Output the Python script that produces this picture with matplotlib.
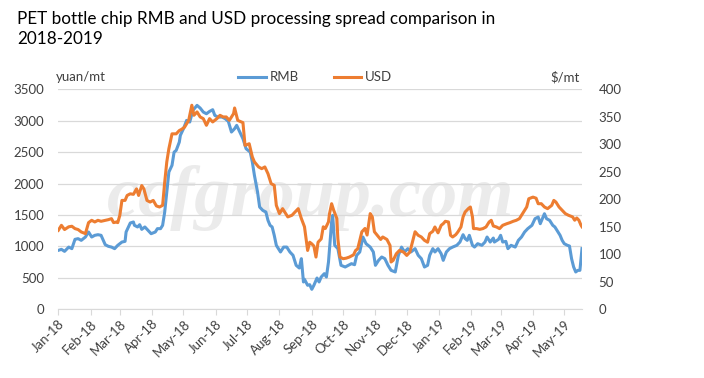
import matplotlib
matplotlib.use("Agg")
import matplotlib.pyplot as plt
import matplotlib.dates as mdates
import pandas as pd

title = "PET bottle chip RMB and USD processing spread comparison in\n2018-2019"

rmb_dates = [
    "2018-01-01", "2018-01-04", "2018-01-07", "2018-01-11", "2018-01-14", "2018-01-17", "2018-01-20",
    "2018-01-23", "2018-01-27", "2018-01-30", "2018-02-02", "2018-02-05", "2018-02-08", "2018-02-11",
    "2018-02-15", "2018-02-18", "2018-02-21", "2018-02-24", "2018-02-27", "2018-03-03", "2018-03-06",
    "2018-03-07", "2018-03-11", "2018-03-14", "2018-03-15", "2018-03-18", "2018-03-20", "2018-03-22",
    "2018-03-25", "2018-03-28", "2018-03-31", "2018-04-04", "2018-04-06", "2018-04-09", "2018-04-11",
    "2018-04-13", "2018-04-15", "2018-04-17", "2018-04-20", "2018-04-22", "2018-04-24", "2018-04-27",
    "2018-04-28", "2018-05-01", "2018-05-04", "2018-05-07", "2018-05-10", "2018-05-14", "2018-05-17",
    "2018-05-20", "2018-05-23", "2018-05-26", "2018-05-29", "2018-05-31", "2018-06-03", "2018-06-07",
    "2018-06-10", "2018-06-13", "2018-06-16", "2018-06-19", "2018-06-21", "2018-06-24", "2018-06-27",
    "2018-06-30", "2018-07-04", "2018-07-06", "2018-07-08", "2018-07-11", "2018-07-13", "2018-07-16",
    "2018-07-19", "2018-07-21", "2018-07-23", "2018-07-25", "2018-07-27", "2018-07-29", "2018-07-31",
    "2018-08-02", "2018-08-05", "2018-08-08", "2018-08-11", "2018-08-14", "2018-08-17", "2018-08-20",
    "2018-08-22", "2018-08-24", "2018-08-25", "2018-08-28", "2018-08-30", "2018-09-01", "2018-09-03",
    "2018-09-06", "2018-09-08", "2018-09-10", "2018-09-13", "2018-09-15", "2018-09-17", "2018-09-20",
    "2018-09-21", "2018-09-23", "2018-09-26", "2018-09-29", "2018-10-03", "2018-10-06", "2018-10-09",
    "2018-10-12", "2018-10-14", "2018-10-17", "2018-10-20", "2018-10-23", "2018-10-27", "2018-10-30",
    "2018-11-01", "2018-11-04", "2018-11-07", "2018-11-10", "2018-11-13", "2018-11-16", "2018-11-20",
    "2018-11-23", "2018-11-26", "2018-11-29", "2018-12-02", "2018-12-05", "2018-12-09", "2018-12-12",
    "2018-12-15", "2018-12-18", "2018-12-21", "2018-12-23", "2018-12-26", "2018-12-28", "2018-12-31",
    "2019-01-03", "2019-01-05", "2019-01-08", "2019-01-11", "2019-01-14", "2019-01-18", "2019-01-21",
    "2019-01-24", "2019-01-26", "2019-01-28", "2019-01-30", "2019-02-02", "2019-02-04", "2019-02-07",
    "2019-02-11", "2019-02-14", "2019-02-16", "2019-02-19", "2019-02-22", "2019-02-23", "2019-02-27",
    "2019-03-01", "2019-03-03", "2019-03-06", "2019-03-08", "2019-03-11", "2019-03-15", "2019-03-18",
    "2019-03-21", "2019-03-24", "2019-03-27", "2019-03-31", "2019-04-03", "2019-04-06", "2019-04-08",
    "2019-04-10", "2019-04-12", "2019-04-14", "2019-04-17", "2019-04-20", "2019-04-22", "2019-04-24",
    "2019-04-27", "2019-04-29", "2019-05-01", "2019-05-04", "2019-05-06", "2019-05-08", "2019-05-10",
    "2019-05-12", "2019-05-14", "2019-05-16", "2019-05-18",
]
rmb_values = [
    938, 954, 922, 990, 965, 1113, 1124,
    1097, 1150, 1230, 1150, 1177, 1187, 1177,
    1028, 1002, 990, 965, 1018, 1070, 1081,
    1230, 1373, 1389, 1336, 1310, 1346, 1272,
    1310, 1256, 1203, 1230, 1283, 1283, 1336,
    1548, 1866, 2184, 2290, 2500, 2528, 2660,
    2767, 2873, 3005, 2979, 3164, 3244, 3201,
    3138, 3111, 3148, 3175, 3085, 3058, 3058,
    3032, 2989, 2820, 2873, 2926, 2820, 2714,
    2555, 2500, 2343, 2131, 1866, 1627, 1574,
    1548, 1415, 1336, 1310, 1177, 1018, 965,
    912, 990, 990, 912, 859, 700, 657,
    806, 435, 477, 382, 392, 318, 382,
    498, 435, 514, 567, 514, 753, 1389,
    1495, 1018, 965, 700, 673, 700, 726,
    710, 859, 912, 1150, 1044, 990, 912,
    700, 779, 832, 806, 700, 620, 594,
    859, 990, 912, 965, 912, 965, 859,
    806, 673, 700, 859, 965, 912, 965,
    885, 779, 912, 965, 990, 1018, 1070,
    1187, 1124, 1097, 1177, 1018, 990, 1044,
    1018, 1070, 1150, 1070, 1134, 1070, 1113,
    1177, 1070, 1081, 965, 1018, 990, 1097,
    1150, 1230, 1283, 1336, 1442, 1468, 1362,
    1442, 1521, 1442, 1415, 1336, 1310, 1256,
    1177, 1097, 1044, 1018, 1007, 806, 673,
    594, 620, 620, 965,
]

usd_dates = [
    "2018-01-01", "2018-01-04", "2018-01-07", "2018-01-11", "2018-01-14", "2018-01-17", "2018-01-20",
    "2018-01-23", "2018-01-27", "2018-01-30", "2018-02-02", "2018-02-05", "2018-02-08", "2018-02-11",
    "2018-02-15", "2018-02-18", "2018-02-21", "2018-02-23", "2018-02-26", "2018-02-27", "2018-03-01",
    "2018-03-03", "2018-03-06", "2018-03-08", "2018-03-11", "2018-03-14", "2018-03-17", "2018-03-19",
    "2018-03-22", "2018-03-24", "2018-03-27", "2018-03-30", "2018-04-02", "2018-04-05", "2018-04-08",
    "2018-04-11", "2018-04-13", "2018-04-15", "2018-04-17", "2018-04-20", "2018-04-24", "2018-04-27",
    "2018-04-29", "2018-05-02", "2018-05-06", "2018-05-09", "2018-05-11", "2018-05-14", "2018-05-17",
    "2018-05-20", "2018-05-23", "2018-05-26", "2018-05-29", "2018-06-02", "2018-06-05", "2018-06-08",
    "2018-06-11", "2018-06-14", "2018-06-18", "2018-06-19", "2018-06-22", "2018-06-24", "2018-06-27",
    "2018-06-29", "2018-07-03", "2018-07-06", "2018-07-08", "2018-07-12", "2018-07-15", "2018-07-18",
    "2018-07-21", "2018-07-24", "2018-07-27", "2018-07-29", "2018-08-01", "2018-08-04", "2018-08-06",
    "2018-08-09", "2018-08-13", "2018-08-16", "2018-08-19", "2018-08-22", "2018-08-25", "2018-08-28",
    "2018-08-30", "2018-09-01", "2018-09-03", "2018-09-05", "2018-09-07", "2018-09-10", "2018-09-12",
    "2018-09-14", "2018-09-17", "2018-09-18", "2018-09-20", "2018-09-22", "2018-09-25", "2018-09-26",
    "2018-09-28", "2018-10-01", "2018-10-04", "2018-10-07", "2018-10-11", "2018-10-13", "2018-10-15",
    "2018-10-19", "2018-10-22", "2018-10-24", "2018-10-27", "2018-10-29", "2018-10-31", "2018-11-04",
    "2018-11-06", "2018-11-08", "2018-11-12", "2018-11-15", "2018-11-16", "2018-11-18", "2018-11-21",
    "2018-11-24", "2018-11-28", "2018-12-01", "2018-12-04", "2018-12-06", "2018-12-09", "2018-12-12",
    "2018-12-15", "2018-12-18", "2018-12-21", "2018-12-23", "2018-12-26", "2018-12-28", "2018-12-31",
    "2019-01-03", "2019-01-05", "2019-01-07", "2019-01-10", "2019-01-12", "2019-01-14", "2019-01-17",
    "2019-01-19", "2019-01-22", "2019-01-24", "2019-01-26", "2019-01-29", "2019-01-31", "2019-02-02",
    "2019-02-03", "2019-02-06", "2019-02-09", "2019-02-12", "2019-02-15", "2019-02-18", "2019-02-20",
    "2019-02-22", "2019-02-25", "2019-02-28", "2019-03-03", "2019-03-07", "2019-03-10", "2019-03-13",
    "2019-03-16", "2019-03-19", "2019-03-22", "2019-03-26", "2019-03-28", "2019-04-01", "2019-04-04",
    "2019-04-06", "2019-04-09", "2019-04-12", "2019-04-15", "2019-04-19", "2019-04-21", "2019-04-23",
    "2019-04-26", "2019-04-29", "2019-05-02", "2019-05-05", "2019-05-09", "2019-05-11", "2019-05-13",
    "2019-05-15", "2019-05-17", "2019-05-18",
]
usd_values = [
    143.6, 152.7, 145, 150, 151, 146.7, 145,
    140.6, 137.6, 157.6, 161.8, 158.8, 161.8, 160,
    161.8, 163, 164.8, 157.6, 158.8, 157.6, 171,
    198, 198, 207, 210, 209, 219, 207,
    225, 219, 198, 195, 198, 188, 186,
    189, 231, 268, 292, 319, 319, 325,
    327, 331, 343.6, 371, 352.7, 358.8, 349.7,
    346.6, 334.5, 346.6, 340.6, 346.6, 352.7, 349.7,
    349.7, 343.6, 355.7, 366, 343.6, 341.8, 339.4,
    298, 301, 277, 268, 258.8, 255.7, 258.8,
    246.6, 228.5, 225.4, 189, 174, 183, 177,
    168, 171, 177, 183, 165, 150, 107,
    122, 119, 115, 95, 122, 128, 150,
    147, 159, 174, 192, 180, 165, 128,
    95, 92, 93, 95, 99, 107, 110,
    141, 147, 135, 174, 168, 141, 131.5,
    127, 131.5, 127, 116, 86, 89, 101,
    107, 104, 98, 104, 119, 141, 134.5,
    131.5, 125.4, 122, 137.6, 141.8, 149.7, 139,
    152.7, 155.7, 160, 158.8, 134.5, 131.5, 135.7,
    140.6, 149.7, 168, 177, 183, 186, 168,
    146.7, 146.7, 145.4, 146.7, 149.7, 158.8, 161.8,
    151.5, 149.7, 146.7, 152.7, 155.7, 157.6, 160,
    161.8, 164.8, 174, 186, 201, 204, 202,
    192, 192, 186, 183, 189, 198, 195,
    186, 180, 174, 171, 168, 162, 166,
    162, 153, 150,
]

left_ticks = [0, 500, 1000, 1500, 2000, 2500, 3000, 3500]
right_ticks = [0, 50, 100, 150, 200, 250, 300, 350, 400]

blue = "#5B9BD5"
orange = "#ED7D31"
fontfam = ["Lato", "DejaVu Sans"]
plt.rcParams["font.family"] = fontfam

fig = plt.figure(figsize=(7.04, 3.78), dpi=100)
ax = fig.add_axes([0.0828, 0.1817, 0.7439, 0.5821])
ax2 = ax.twinx()

rd = pd.to_datetime(rmb_dates)
ud = pd.to_datetime(usd_dates)

# watermark (behind everything)
fig.text(0.442, 0.428, "ccfgroup.com", family="Liberation Serif", style="italic",
         weight="bold", fontsize=52, color="#EBEBEB", ha="center", va="baseline", zorder=-10)
ax.patch.set_alpha(0)
ax2.patch.set_alpha(0)

l1, = ax.plot(rd, rmb_values, color=blue, lw=2.2, label="RMB", zorder=3)
l2, = ax2.plot(ud, usd_values, color=orange, lw=2.2, label="USD", zorder=3)

ax.set_ylim(0, 3500)
ax.set_yticks(left_ticks)
ax2.set_ylim(0, 400)
ax2.set_yticks(right_ticks)
ax.set_xlim(pd.Timestamp("2018-01-01"), pd.Timestamp("2019-05-18"))
ax.xaxis.set_major_locator(mdates.MonthLocator())
ax.xaxis.set_major_formatter(mdates.DateFormatter("%b-%y"))

ax.grid(axis="y", color="#D9D9D9", lw=0.9)
ax.set_axisbelow(True)
for a in (ax, ax2):
    for s in ("top", "left", "right", "bottom"):
        a.spines[s].set_visible(False)
ax.spines["bottom"].set_visible(True)
ax.spines["bottom"].set_color("#D9D9D9")

ax.tick_params(axis="y", length=0, labelsize=9.5, colors="#404040", pad=10)
ax2.tick_params(axis="y", length=0, labelsize=9.5, colors="#404040", pad=12)
ax.tick_params(axis="x", length=4, color="#D9D9D9", labelsize=9.5, labelcolor="#404040", pad=2)
for lab in ax.get_xticklabels():
    lab.set_rotation(45)
    lab.set_ha("right")
    lab.set_rotation_mode("anchor")

fig.text(0.024, 0.972, title, fontsize=12.3, color="#000000", ha="left", va="top", linespacing=1.35)
fig.text(0.079, 0.795, "yuan/mt", fontsize=9.5, color="#404040", ha="left", va="center")
fig.text(0.824, 0.795, "$/mt", fontsize=9.5, color="#404040", ha="right", va="center")
fig.legend(handles=[l1, l2], loc="center", bbox_to_anchor=(0.448, 0.795), ncol=2, frameon=False,
           fontsize=9.5, handlelength=2.1, columnspacing=2.6, handletextpad=0.3,
           labelcolor="#404040")

fig.savefig("out.png", dpi=100)
